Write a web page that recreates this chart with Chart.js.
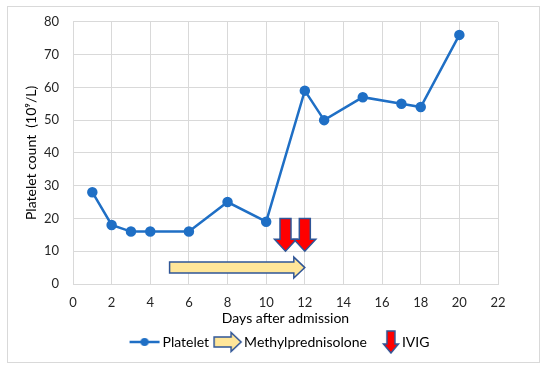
<!DOCTYPE html>
<html>
<head>
<meta charset="utf-8">
<script src="https://cdn.jsdelivr.net/npm/chart.js@4/dist/chart.umd.min.js"></script>
<style>
  html, body { margin: 0; padding: 0; background: #fff; }
  #wrap { width: 550px; height: 368px; }
</style>
</head>
<body>
<div id="wrap"><canvas id="chart" width="550" height="368"></canvas></div>
<script>
const days = [1, 2, 3, 4, 6, 8, 10, 12, 13, 15, 17, 18, 20];
const platelets = [28, 18, 16, 16, 16, 25, 19, 59, 50, 57, 55, 54, 76];

// treatment markers (days / y levels)
const mpStartDay = 5;
const mpEndDay = 12;
const mpLevel = 5;
const ivigDays = [11, 12];
const ivigTop = 20;
const ivigTip = 10;

const BLUE = "#1f6fc5";
const ARROW_EDGE = "#2f5597";
const FONT = "Lato, 'Open Sans', sans-serif";

function rightArrow(ctx, x0, x1, yc, bodyH, headH, headLen) {
  const xh = x1 - headLen;
  ctx.beginPath();
  ctx.moveTo(x0, yc - bodyH / 2);
  ctx.lineTo(xh, yc - bodyH / 2);
  ctx.lineTo(xh, yc - headH / 2);
  ctx.lineTo(x1, yc);
  ctx.lineTo(xh, yc + headH / 2);
  ctx.lineTo(xh, yc + bodyH / 2);
  ctx.lineTo(x0, yc + bodyH / 2);
  ctx.closePath();
  ctx.fillStyle = "#ffe699";
  ctx.fill();
  ctx.lineWidth = 1.5;
  ctx.strokeStyle = ARROW_EDGE;
  ctx.stroke();
}

function downArrow(ctx, xc, y0, y1, bodyW, headW, headLen) {
  const yh = y1 - headLen;
  ctx.beginPath();
  ctx.moveTo(xc - bodyW / 2, y0);
  ctx.lineTo(xc + bodyW / 2, y0);
  ctx.lineTo(xc + bodyW / 2, yh);
  ctx.lineTo(xc + headW / 2, yh);
  ctx.lineTo(xc, y1);
  ctx.lineTo(xc - headW / 2, yh);
  ctx.lineTo(xc - bodyW / 2, yh);
  ctx.closePath();
  ctx.fillStyle = "#ff0000";
  ctx.fill();
  ctx.lineWidth = 1.5;
  ctx.strokeStyle = ARROW_EDGE;
  ctx.stroke();
}

// legend icons: 64px wide canvas, icon content ends at x=46 so it sits just before the label
function makeIcon(draw) {
  const c = document.createElement("canvas");
  c.width = 64;
  c.height = 24;
  draw(c.getContext("2d"));
  return c;
}

const plateletIcon = makeIcon((ctx) => {
  ctx.strokeStyle = BLUE;
  ctx.lineWidth = 2.5;
  ctx.beginPath();
  ctx.moveTo(16, 12);
  ctx.lineTo(46, 12);
  ctx.stroke();
  ctx.fillStyle = BLUE;
  ctx.beginPath();
  ctx.arc(31, 12, 4, 0, Math.PI * 2);
  ctx.fill();
});
const mpIcon = makeIcon((ctx) => rightArrow(ctx, 19, 46, 12, 10, 19, 10));
const ivigIcon = makeIcon((ctx) => downArrow(ctx, 38, 1, 23, 8, 15, 9));

const legendIcons = [plateletIcon, mpIcon, ivigIcon];
const legendNames = ["Platelet", "Methylprednisolone", "IVIG"];

const treatmentPlugin = {
  id: "treatments",
  afterLayout(chart) {
    // the reference legend is centred on the whole figure, not on the padded area
    chart.legend.left += 22;
    chart.legend.right += 22;
  },
  beforeDraw(chart) {
    const { ctx } = chart;
    ctx.save();
    ctx.fillStyle = "#fff";
    ctx.fillRect(0, 0, chart.width, chart.height);
    ctx.strokeStyle = "#d9d9d9";
    ctx.lineWidth = 1;
    ctx.strokeRect(7.5, 6.5, 532, 356);
    ctx.restore();
  },
  afterDatasetsDraw(chart) {
    const { ctx, scales } = chart;
    const x = scales.x;
    const y = scales.y;
    ctx.save();
    rightArrow(ctx, x.getPixelForValue(mpStartDay), x.getPixelForValue(mpEndDay),
      y.getPixelForValue(mpLevel), 11, 21, 11);
    ivigDays.forEach((d) => {
      downArrow(ctx, x.getPixelForValue(d), y.getPixelForValue(ivigTop),
        y.getPixelForValue(ivigTip), 11, 22, 12);
    });
    ctx.restore();
  },
};

new Chart(document.getElementById("chart"), {
  type: "line",
  data: {
    datasets: [
      {
        label: "Platelet",
        data: days.map((d, i) => ({ x: d, y: platelets[i] })),
        borderColor: BLUE,
        backgroundColor: BLUE,
        borderWidth: 2.5,
        pointRadius: 4,
        pointHoverRadius: 4,
        tension: 0,
      },
    ],
  },
  options: {
    responsive: false,
    animation: false,
    events: [],
    layout: { padding: { left: 23, right: 52, top: 20, bottom: 9 } },
    plugins: {
      tooltip: { enabled: false },
      legend: {
        position: "bottom",
        labels: {
          usePointStyle: true,
          pointStyleWidth: 20,
          padding: 8,
          color: "#000",
          font: { family: FONT, size: 14 },
          generateLabels: () => legendNames.map((name, i) => ({
            text: name,
            pointStyle: legendIcons[i],
            fillStyle: "transparent",
            strokeStyle: "transparent",
            lineWidth: 0,
            hidden: false,
            datasetIndex: 0,
          })),
        },
      },
    },
    scales: {
      x: {
        type: "linear",
        min: 0,
        max: 22,
        ticks: { stepSize: 2, color: "#262626", font: { family: FONT, size: 13 }, padding: 11 },
        grid: { color: "#d9d9d9", drawTicks: false },
        border: { color: "#d9d9d9" },
        title: {
          display: true,
          text: "Days after admission",
          color: "#000",
          font: { family: FONT, size: 14 },
          padding: { top: 0, bottom: 0 },
        },
        afterFit(scale) { scale.height = 43; },
      },
      y: {
        min: 0,
        max: 80,
        ticks: { stepSize: 10, color: "#262626", font: { family: FONT, size: 13 }, padding: 14 },
        grid: { color: "#d9d9d9", drawTicks: false },
        border: { color: "#d9d9d9" },
        title: {
          display: true,
          text: "Platelet count  (10\u2079/L)",
          color: "#000",
          font: { family: FONT, size: 14 },
          padding: { top: 0, bottom: 0 },
        },
        afterFit(scale) { scale.width = 50; },
      },
    },
  },
  plugins: [treatmentPlugin],
});
</script>
</body>
</html>
